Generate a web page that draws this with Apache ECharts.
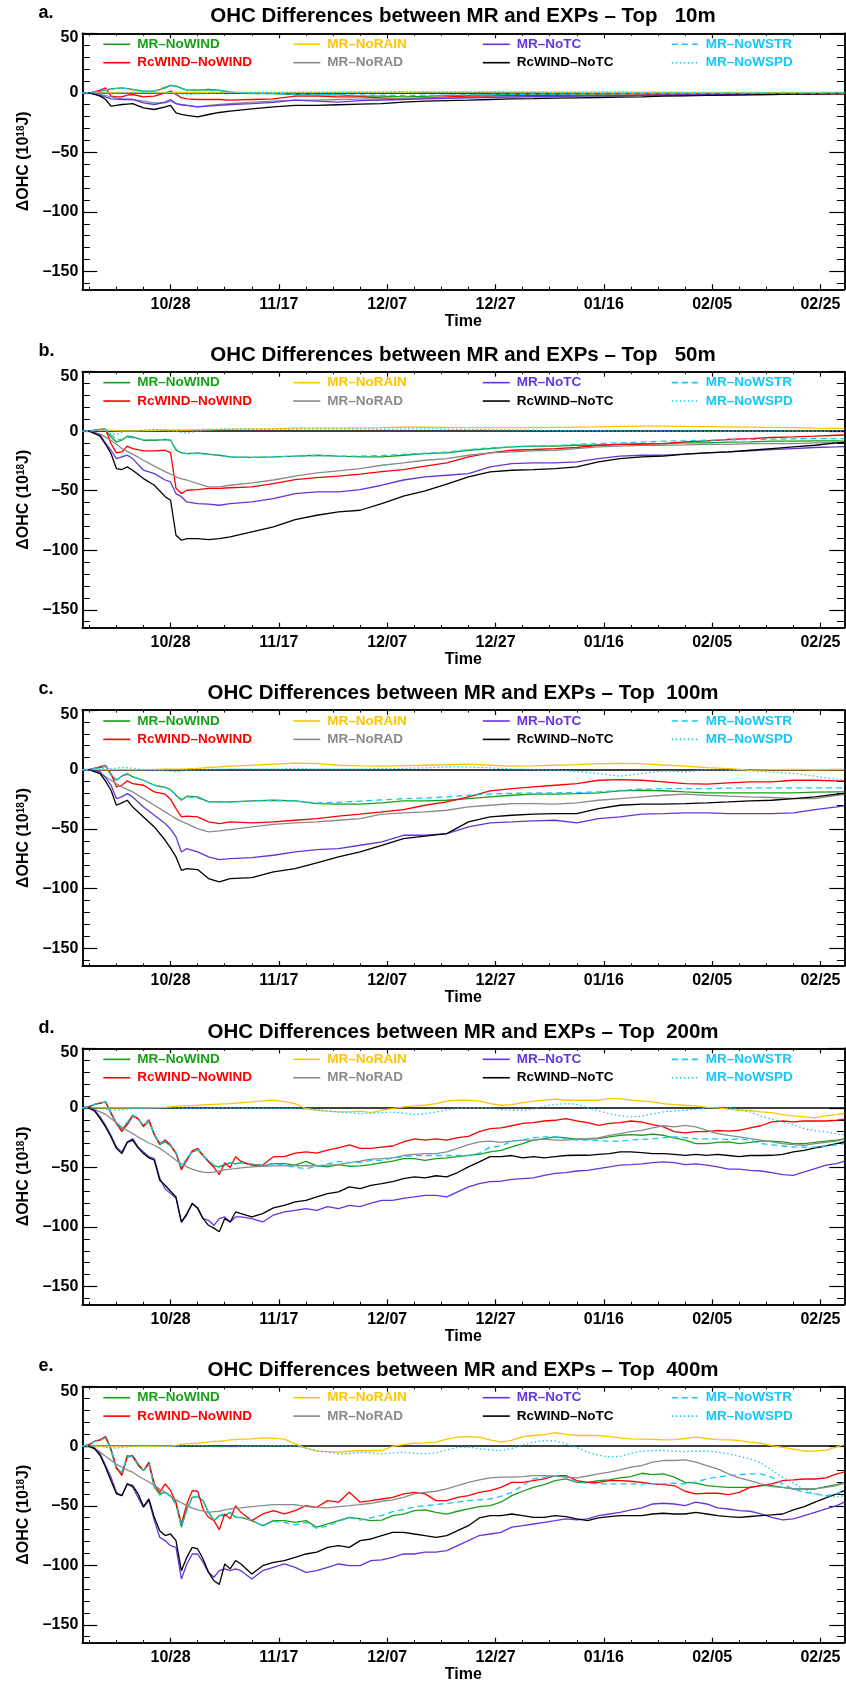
<!DOCTYPE html>
<html><head><meta charset="utf-8">
<script src="https://cdn.jsdelivr.net/npm/echarts@6/dist/echarts.min.js"></script>
<style>html,body{margin:0;padding:0;background:#fff}#c{width:846px;height:1685px}</style>
</head><body><div id="c"></div>
<script>
// ---------- labels ----------
const seriesNames = ['MR–NoWIND','RcWIND–NoWIND','MR–NoRAIN','MR–NoRAD','MR–NoTC','RcWIND–NoTC','MR–NoWSTR','MR–NoWSPD'];
const panelLetters = ['a.','b.','c.','d.','e.'];
const depthLabels = ['  10','  50',' 100',' 200',' 400'];
const xTickDays = [27,47,67,87,107,127,147];           // days since 10/01
const xTickLabels = ['10/28','11/17','12/07','12/27','01/16','02/05','02/25'];
const yTickValues = [-150,-100,-50,0,50];
const yTickLabels = ['–150','–100','–50','0','50'];

// ---------- sample days (days since 10/01) ----------
const daysCoarse = [10.7,12,13,14,15,16,17,18,19,20,22,24,26,27,28,29,30,32,34,36,38,42,46,50,54,58,62,66,70,74,78,82,86,90,94,98,102,106,110,114,118,122,126,130,134,138,142,146,150,151.4];
const daysFine = [10.7,12,13,14,15,16,17,18,19,20,21,22,23,24,25,26,27,28,29,30,31,32,33,34,35,36,37,38,39,40,
 42,44,46,48,50,52,54,56,58,60,62,64,66,68,70,72,74,76,78,80,
 82,84,86,88,90,92,94,96,98,100,102,104,106,108,110,112,114,116,118,120,122,124,126,128,130,132,134,136,138,140,142,144,146,148,150,151.4];

// ---------- panel a : top 10 m ----------
const aNoWIND   = [0,0,0.8,1.4,2.5,3.4,3.8,4.2,3.5,2.8, 1.4,1.4,4.2,6.2,5.6,4,2.2,2.2,2.8,2.2, 0.6,-0.6,-0.6,-1.4,-1.7,-1.7,-2.8,-2.8,-3.4,-3, -2.2,-2,-1.7,-1.4,-1.4,-1.2,-1,-1,-0.8,-0.8, -0.6,-0.6,-0.5,-0.5,-0.4,-0.4,-0.3,-0.3,-0.3,-0.3];
const aRcNoWIND = [0,0,1,2.2,4.2,-2.8,-3.4,-3.4,-2,-1.4, -3.4,-2.8,0,1.4,-1.4,-4,-5,-5.6,-5.6,-5.6, -6.2,-5.6,-5,-2.8,-2.8,-3.4,-3.4,-4.2,-5,-4.2, -3.4,-2.8,-2.8,-2.2,-2.2,-2.2,-2.2,-2,-2,-1.8, -1.4,-1.4,-1.2,-1.2,-1,-1,-0.8,-0.8,-0.6,-0.6];
const aNoRAIN   = [0,0,0,0,0.2,0.2,0.3,0.3,0.3,0.3, 0.3,0.3,0.3,0.3,0.3,0.3,0.3,0.3,0.4,0.4, 0.4,0.4,0.4,0.4,0.4,0.5,0.5,0.5,0.5,0.6, 0.6,0.6,0.6,0.6,0.6,0.5,0.5,0.5,0.5,0.5, 0.5,0.4,0.4,0.4,0.4,0.4,0.4,0.3,0.3,0.3];
const aNoRAD    = [0,0,-0.7,-1.4,-2.4,-3.4,-4.2,-5,-5.3,-5.6, -7,-8.4,-8.4,-7,-9,-10,-10.6,-11.8,-10.6,-9.8, -9,-7.8,-7,-6.2,-6.2,-5.6,-5.2,-5,-4.8,-4.5, -4.2,-4,-3.8,-3.6,-3.4,-3.1,-2.8,-2.6,-2.5,-2.4, -2.2,-2,-1.8,-1.6,-1.4,-1.2,-1,-0.9,-0.8,-0.8];
const aNoTC     = [0,0,-1,-2.2,-3.5,-5,-5.3,-5.6,-5.6,-5.6, -8.4,-9.8,-7.8,-5.6,-9,-10,-10.6,-11.8,-11.2,-10.5, -9.8,-9,-8,-6.2,-7,-7.8,-6.5,-6,-5.6,-5, -4.6,-4.2,-3.8,-3.4,-3.2,-3,-2.8,-2.6,-2.4,-2.2, -2,-1.8,-1.6,-1.4,-1.2,-1,-0.8,-0.6,-0.5,-0.5];
const aRcNoTC   = [0,0,-1.4,-2.8,-5.6,-11.2,-10.5,-9.8,-9.4,-9, -12.6,-14,-11.8,-10.6,-16.8,-18,-19,-20.2,-18.2,-16.5, -15.4,-13.4,-11.8,-10.6,-10.6,-10,-9.5,-9,-7.8,-7, -6.5,-6.2,-5.6,-5,-4.8,-4.5,-4.2,-3.9,-3.6,-3.4, -2.8,-2.5,-2.2,-1.9,-1.7,-1.4,-1.1,-1.1,-0.8,-0.8];
const aNoWSTR   = [0,0,0.8,1.7,2.8,2.8,3.8,4.2,3.4,2.8, 1.1,1.4,5,6.2,5,3.5,2.2,2.8,2.2,1.8, 0.6,-0.3,-0.6,-1.2,-1.4,-1.4,-2,-2,-2.2,-2, -1.8,-1.6,-1.4,-1.2,-1.2,-1,-1,-0.8,-0.8,-0.6, -0.6,-0.5,-0.5,-0.4,-0.4,-0.3,-0.3,-0.2,-0.2,-0.2];
const aNoWSPD   = [0,0,0,0.3,0.3,-0.6,-0.3,0,0.3,0.3, 0.3,0,0,0,-0.6,-1,-1.4,-1,-0.6,-0.3, 0,0.3,0.3,0.6,0.6,0.3,0.3,0.6,0.8,0.8, 0.6,0.6,0.8,0.6,0.6,0.4,0.4,0.3,0.3,0.2, 0.2,0.2,0,0,0,-0.2,-0.2,-0.2,-0.3,-0.3];

// ---------- panel b : top 50 m ----------
const bNoWIND   = [0,0,0.7,1.4,1.4,-4.8,-9,-7.6,-4.2,-4.8, -7.6,-7.6,-7,-7.6,-16,-18.2,-18.8,-18.2,-19.3,-20.2, -21.6,-22,-21.6,-21,-20.2,-21,-21.6,-21.6,-20.2,-18.8, -18.2,-16,-14.6,-13.2,-12.6,-12.6,-11.8,-11.8,-11,-10.4, -10.4,-9.8,-9.8,-9.2,-9,-8.4,-8.4,-8.1,-8.1,-8.4];
const bRcNoWIND = [0,0,0.8,1.5,1.7,-10.4,-18.2,-17.4,-12.6,-14.6, -16.5,-16.5,-16,-18,-48,-52.4,-49.6,-49,-48,-48, -47.5,-46.8,-44,-40.6,-39,-37.8,-36,-34,-32.2,-29.4, -26.6,-21.6,-18.2,-16,-15.4,-14.6,-13.7,-11.8,-11,-11, -10.4,-9,-8.1,-7,-6.2,-5.3,-4.8,-4.2,-3.4,-3.2];
const bNoRAIN   = [0,0,0.5,0.8,1,0.8,0.5,0.3,0.3,0.3, 0.5,0.8,1,1,1,1,1,1.2,1.4,1.6, 1.8,2,2.2,2.5,2.5,2.5,2.8,3,3.3,3.3, 3.2,3,3,3,3,3.2,3.4,3.6,4,4.2, 4.2,4,3.8,3.6,3.4,3.2,3,2.6,2.4,2.4];
const bNoRAD    = [0,0,-1.2,-2.5,-5,-7.6,-11,-14.6,-17,-19.3, -24.4,-29.4,-34,-36,-38.4,-40,-41,-44,-46.8,-46.8, -45.4,-43.4,-41,-37.8,-35,-33.3,-31.4,-28.6,-26.6,-24.4, -23,-20.2,-18.2,-17.4,-16.5,-16,-14.6,-13.2,-12.6,-12, -11.8,-11.5,-11,-11,-10.4,-10.4,-10.4,-9.8,-9.6,-9.6];
const bNoTC     = [0,0,-1.5,-3.4,-10,-16,-23,-21.6,-20.2,-23, -32.8,-35.6,-41,-42.6,-52.4,-55,-59.4,-60.8,-61.3,-62.2, -60.8,-59.4,-56.6,-52.4,-51,-51,-49,-45.4,-41,-38.4, -37,-35.6,-30,-27.2,-26.6,-26.6,-25.8,-23,-21,-20.2, -20.2,-19.3,-18.2,-17.4,-16.5,-15.4,-14.6,-13.7,-13.2,-13];
const bRcNoTC   = [0,0,-2,-4.2,-11,-18.8,-31.4,-32.2,-30,-32.8, -39.8,-45.4,-55,-58,-87.4,-91.6,-90.2,-90.2,-91,-90.2, -88.8,-84.6,-80.4,-74.2,-70.6,-67.8,-66.4,-60.8,-54.6,-50.1, -44.5,-38.4,-34.2,-32.8,-32.2,-31.4,-30,-25.8,-23,-21.6, -21,-19.3,-18.2,-17.4,-16,-14.6,-13.2,-11.8,-9.8,-9.5];
const bNoWSTR   = [0,0,0.7,1.4,1.4,-3,-7,-7,-5,-5.5, -7,-7.3,-7,-7.3,-15,-18,-18.8,-18.8,-19.5,-20.5, -21.6,-22,-21.6,-21,-20.5,-21,-21,-20.5,-19.5,-18.5, -17.5,-15.5,-14,-13,-12.3,-12,-11,-10.4,-9.8,-9.2, -8.4,-8.1,-7.6,-7.3,-7,-6.7,-6.4,-6.2,-6.2,-6.2];
const bNoWSPD   = [0,0,0.5,1,0.5,-2,-3,-1,0,0, 1,1.5,1,0,0,-1,-1.5,0,1,1.5, 1.8,1.6,1.4,1.6,2,2,1.8,1.6,1.8,2, 1.8,1.4,1.2,1,0.8,0.6,0.5,0.4,0.3,0.2, 0.2,0.2,0.1,0,0,0,0,0,0,0];

// ---------- panel c : top 100 m ----------
const cNoWIND   = [0,0,1,1.7,2.8,-4.8,-9,-5.6,-3.4,-6.2, -9,-13.2,-15,-17,-21.6,-25.8,-22.4,-23,-27.2,-27.2, -27.2,-26.3,-25.8,-26.3,-28.6,-29,-29,-28,-26.3,-26.3, -25.8,-24.4,-23,-21.6,-20.7,-20.7,-20.2,-19.6,-18,-17.4, -17.8,-18.8,-19.6,-19.6,-19.6,-19.6,-19.6,-19,-18.8,-18.8];
const cRcNoWIND = [0,0,1.2,2.2,3.6,-3.4,-14.6,-13.2,-9.5,-11.8, -13.2,-18.8,-20.7,-25,-32.8,-39.8,-39.2,-39.8,-44,-45.4, -44,-44.8,-44,-42.6,-41.2,-39.2,-37.5,-35.6,-33.6,-30, -27.2,-23,-18,-16,-14.6,-13.2,-11.8,-9,-8.4,-9, -10.4,-11.8,-12.3,-11.2,-10.4,-10.4,-9,-9,-9.5,-9.5];
const cNoRAIN   = [0,0,0,0,0,0,0,0,0,0, 0,0.2,0.3,0.3,0.3,0.3,0.5,1,1.7,2.2, 2.8,3.6,4.5,5.4,5,3.6,3,2.8,3.2,3.6, 4,4.5,3.6,2.8,3,3.6,4.2,5,5.2,5, 3.8,2.8,1.6,0.8,-0.6,0,0.2,-0.2,0,0];
const cNoRAD    = [0,0,-1.7,-3.4,-6,-9,-12,-14.6,-16.7,-18.8, -24.4,-30,-35.6,-38.4,-41.2,-43.5,-45.4,-49.6,-52.4,-51.5, -50.4,-48.2,-46,-44.8,-44,-42.6,-41.2,-37.5,-36.4,-35.6, -34.2,-31.4,-30,-28.6,-28.6,-29,-28,-25.8,-24.4,-23, -21.6,-20.7,-21.6,-22.4,-23,-23.5,-24.4,-24.4,-21.6,-21];
const cNoTC     = [0,0,-1,-2,-7,-13.2,-24.4,-23,-20.2,-23, -31.4,-38.4,-45.4,-50,-56.6,-69.2,-66.4,-69.2,-73.4,-75.6, -74.8,-74,-72,-69.2,-67.2,-66.4,-63.6,-60.8,-55.2,-55.2, -53.8,-48.2,-44.8,-44,-43.1,-42.6,-44.8,-41.2,-39.8,-37.5, -37,-36.4,-36.4,-37,-37,-37,-36.4,-33.6,-31.4,-30.5];
const cRcNoTC   = [0,0,-1.7,-3.4,-10,-17.4,-30,-28,-25.8,-31.4, -39.8,-48.2,-59.4,-66,-73.4,-84.6,-83.2,-84,-91.6,-94.4, -91.6,-90.8,-86,-83.2,-78.4,-73.4,-69.2,-63.6,-58,-56, -53.8,-44,-39.8,-38.4,-37.5,-37,-37,-32.8,-30,-29, -29,-28.6,-28,-27.2,-26.3,-25.8,-24.4,-23,-20.7,-20];
const cNoWSTR   = [0,0,1,1.7,2.8,-4,-8.5,-6,-4,-6, -9,-13,-15,-17,-21,-25,-23,-24,-27,-27.5, -27.5,-26.5,-26,-26.5,-28,-27.5,-26.5,-25.5,-24.5,-24, -23,-21.6,-20.5,-20,-19.6,-19.6,-19.2,-18.8,-17.5,-16.5, -16,-16,-16,-15.6,-15.4,-15.4,-15.4,-15.4,-15.4,-15.4];
const cNoWSPD   = [0,0,0,0.5,1,0.5,1.2,1.7,1.5,1, 0,-0.6,-1,-1.4,-2,-1.4,-0.6,0,0,0.3, 0.5,0.5,0.5,0.8,0.5,0.5,0.5,0.8,1,1.4, 2.2,2.2,1.4,0.5,0,-0.5,-1.5,-3.4,-5.6,-3.4, -1.2,-2,0,-0.6,-1.2,-2,-3.4,-5.6,-8.4,-9];

// ---------- panel d : top 200 m ----------
const dNoWIND   = [0, 1,3,4,5,-5,-13,-18,-13,-6,-9,-16,-11,-23,-31,-28.5,-32,-38,-51,-43,-37,-35.5,-40,-45,-49,-49.6,-48,-46,-47,-46, -47.6,-48.7,-46.8,-46.8,-48,-45,-48.7,-49.6,-47.6,-49,-48.7,-47.6,-46,-44.8,-42.6,-42.6,-44,-42.6,-42,-41, -39.8,-39,-37,-35.6,-32.8,-30,-27,-25.8,-24.4,-25.2,-26.3,-26.3,-25.8,-24.4,-23,-22.4,-23,-22,-23,-25.2,-27,-30,-30,-29,-28.6,-30,-29,-28,-28,-28.6,-30,-30,-29,-28,-27, -26];
const dRcNoWIND = [0, 1,3,4,5,-4,-13,-20,-14,-7,-9,-15,-10,-22,-30,-27,-31,-38,-52,-44,-36,-34,-40,-45,-50,-56,-46,-50,-41,-45, -48,-48,-41,-41,-38,-37,-38,-35.5,-33.6,-31,-34,-34,-33,-32,-28.6,-26,-27,-26,-27,-25, -24,-20,-17.4,-16.8,-15,-13,-12.3,-11,-10.4,-9,-11,-12.3,-14.6,-13,-12.3,-11,-12,-14,-16,-20,-21,-20,-20,-19,-19.6,-18.8,-16.8,-15,-11.8,-11,-11.8,-11,-11,-11,-10.4, -9.5];
const dNoRAIN   = [0, 0,0,0,0,0,0,0,0,0,0,0,0,0.2,0.3,0.5,0.9,1.3,1.7,1.9,2,2.2,2.5,2.8,3,3.2,3.4,3.6,4,4.3, 5,5.9,6.4,5.2,3.6,-0.5,-2,-2.8,-3.4,-3.4,-2.8,-3.9,-2,-0.6,0.8,1.7,2.2,3.6,5.6,6.4, 6.4,5.6,3.6,2.2,2.8,4.5,5.6,6.4,7.3,6.4,6.4,6.4,6.4,7.8,7.8,6.4,5.9,5,3.6,2.8,2.2,1.7,0.5,0,-1.1,-2,-2.2,-3.4,-3.9,-5.6,-6.7,-7.6,-8.4,-6.7,-5.6, -4.5];
const dNoRAD    = [0, -0.5,-1.5,-3.4,-5.5,-9,-12.5,-16,-19,-21.6,-24.5,-27,-29.5,-31.4,-34,-37,-40.5,-44,-47,-49.6,-51.5,-53,-54,-54.3,-54,-53,-52,-51.5,-51,-50.4, -49.6,-49,-48.7,-48.7,-48.7,-48.4,-48.7,-48,-47.6,-46,-44.8,-43,-42.6,-42,-40,-39,-38.4,-38.4,-37,-34, -30.8,-28.6,-28,-29,-28,-27,-27,-26.3,-27,-27,-26.3,-25.8,-25.2,-23,-21.6,-20,-18.8,-16.8,-15,-16,-14.6,-16,-18.8,-21.6,-23,-24.4,-25.8,-27,-28.6,-30,-30.8,-31.4,-30,-29,-28, -26.3];
const dNoTC     = [0, 0,-2,-7.6,-14.6,-23,-32.8,-37,-28.6,-25.8,-32.8,-37,-41,-42.6,-59,-68,-72,-76,-96,-90,-80,-84.6,-93,-94.4,-98.6,-93,-91.6,-95.8,-91.6,-91.6, -93,-95.8,-90,-87.4,-86,-84.6,-86,-83,-84.6,-81.8,-83,-80,-77.6,-77.6,-76,-74.8,-73.4,-73.4,-74.8,-70.6, -66.4,-63.6,-62,-61.6,-60,-59.4,-58.8,-56.6,-55,-54.3,-53,-52.4,-51,-49.6,-48,-47.6,-47,-46,-45.4,-46,-47.6,-47,-48,-49.6,-51.5,-51.5,-52.4,-53,-54.3,-56,-56.6,-53.8,-51,-48,-46.8, -44.8];
const dRcNoTC   = [0, 0,-2.8,-9,-16,-24.4,-34,-38.4,-29,-27,-33.6,-38.4,-42,-44,-60.8,-65,-70,-74.8,-96,-88.8,-80.4,-84,-93,-98.6,-101,-104,-93,-95.8,-87.4,-88.8, -91.6,-88.8,-84,-81.8,-79,-77.6,-74.8,-72,-70.6,-66.4,-67.8,-65,-63.6,-62,-59.4,-58,-58.8,-57,-58,-54.3, -49.6,-45.4,-41,-41,-40,-42,-41,-42,-41,-40,-39.8,-39.8,-39,-38.4,-37,-37,-37.5,-38.4,-38.4,-39,-39.8,-39,-39.8,-39,-40,-41,-40,-40,-39.8,-39,-37,-35.6,-33.6,-32,-30, -28.6];
const dNoWSTR   = [0, 1,3,4,5,-4,-12,-17,-12,-6,-9,-15,-11,-22,-30,-28,-32,-37,-50,-42,-37,-35,-40,-44,-48,-49,-47,-46,-47,-46, -47,-48,-47,-48,-50,-51,-49,-47,-45,-46,-46,-44,-44,-42,-41,-40,-40,-40,-40,-40, -40,-38,-33,-32,-28,-27,-25,-24.4,-24.4,-26,-27,-27,-27.5,-28,-28,-27,-26.5,-26,-25,-24.4,-25,-26,-26,-26,-26.5,-26,-27,-30,-31,-32,-33,-33,-33,-32,-31, -30];
const dNoWSPD   = [0, 0,0,-0.5,-1,-2,-2,-1.5,-1,-0.5,-0.5,-0.5,-0.5,0,0,0,0,0,0,-0.3,-0.5,-0.5,-0.5,-0.5,-0.3,0,0,-0.3,-0.5,-0.5, -0.5,-0.5,-0.6,-0.6,-0.6,-1,-1.5,-2.5,-3.5,-4,-4.8,-4.5,-4,-3.4,-4.5,-5.6,-5,-3.5,-1.5,-0.5, 0,0,0,-1.5,-2,-2,-1,1.5,2.8,3.6,3,0,-2.5,-4.8,-6.5,-7.6,-7,-5,-3.4,-2.5,-2,-1,0,0.5,0.5,-1.5,-3.4,-7,-9.5,-11.8,-14,-17.4,-19,-20,-22, -22.4];

// ---------- panel e : top 400 m ----------
const eNoWIND   = [0, 1.4,4.2,5.3,7.6,-3.6,-19,-23,-7.8,-8.7,-16.2,-20.4,-14.8,-34.5,-40,-38.7,-41.5,-48.5,-68,-52.7,-42.9,-42.3,-45.7,-55.5,-62.5,-58.3,-58.3,-55.5,-59.7,-59.7, -62.5,-66.7,-62.5,-62.5,-63.9,-62.5,-68,-65.3,-62.5,-59.7,-61,-62.5,-62,-58.3,-57,-54,-53.5,-55.5,-57,-54.6, -52.7,-50.7,-49.9,-47,-41.5,-37.8,-34.5,-32.2,-28.9,-27.5,-30.3,-30.3,-28.9,-28.3,-26.6,-25.5,-22.7,-23.8,-23.2,-26,-30.3,-31,-33,-33.9,-34.5,-34.5,-34.5,-33,-33,-34.5,-35.9,-35.9,-35.9,-33.9,-32.2, -30.3];
const eRcNoWIND = [0, 1.4,4.2,5.3,8.1,-2.2,-17.6,-24.6,-9.2,-7.8,-14.8,-20.4,-13.4,-31.6,-38.7,-31.6,-37.3,-47,-65.3,-48.5,-37.3,-37.8,-52.7,-59.7,-62.5,-70,-56.9,-61,-49.9,-55.5, -62.5,-56.9,-54,-56.9,-54,-49.9,-51.3,-45.7,-47,-38.7,-47,-45.7,-44.3,-42.9,-40,-38.7,-40,-45.7,-45.7,-42.9, -41.5,-38.7,-37.3,-34.5,-30.3,-30.3,-28.9,-27.5,-24.6,-24.6,-28.9,-30.3,-30.3,-28.9,-28.9,-29.4,-30.3,-31.6,-32.2,-33,-37.8,-40,-39.5,-39.5,-40.6,-38.7,-34.5,-33,-31.6,-28.9,-28.3,-27.5,-27.5,-26.6,-23.2, -21.8];
const eNoRAIN   = [0, 0,0,0,0,0,0,0,0,0,0,0,0,0,0,0,0,0.8,1.5,2,2.3,2.5,3,3.5,4,4.2,4.7,5.3,5.6,5.9, 6.2,7,6.8,6,2,-1.5,-4.2,-4.6,-5,-4.2,-3.6,-3.8,-3.6,0,1.4,2.5,2.8,3.4,6,7.6, 8.1,7.6,5.3,3.4,5,8,9,9.8,11.5,10,9,9,9,8,7,6.2,6,5.8,5.3,5.6,6.5,7.6,6.5,5.5,5.3,4.8,3.4,2.5,0.6,-1,-2.5,-4.2,-4,-3.2,-0.5, 1.4];
const eNoRAD    = [0, -0.8,-2,-5,-8.5,-12,-15,-17.6,-20,-21.8,-25,-27.5,-30,-33,-36,-38.7,-42,-45,-47.5,-49.9,-52,-53.5,-54.5,-55.5,-55,-54.6,-53.5,-52.7,-52,-51.8, -50.7,-49.9,-49,-49,-49,-50.7,-51.3,-51.8,-50.7,-49.9,-49,-47.9,-46.2,-45,-42.9,-40,-38.7,-37.8,-35.9,-33, -30.3,-28.3,-26.6,-26,-26,-25.5,-24.6,-24.6,-25,-26,-26.6,-25,-23.2,-21.8,-19.9,-17.6,-16.2,-13.4,-12,-12,-11.5,-13.4,-16.2,-19,-23.2,-26.6,-28.9,-31.6,-33.9,-34.5,-35.9,-35.9,-35.9,-34.5,-33, -31];
const eNoTC     = [0, 0,-1.4,-6.4,-16.2,-26,-38.7,-41.5,-31.6,-34.5,-42.9,-51.3,-45.7,-62.5,-76.5,-79.3,-83.5,-84.9,-111.5,-98.9,-90.5,-90.5,-97.5,-105.9,-110,-104.5,-103,-104.5,-103,-104.5, -111.5,-104.5,-101.7,-98.9,-101.7,-105.9,-104.5,-101.7,-98.9,-100.3,-100.3,-96,-95.5,-93.3,-90.5,-90.5,-89,-89,-87.7,-83.5, -79.3,-75,-73.7,-72.3,-68,-66.7,-65.3,-63.9,-62.5,-61,-61.9,-61,-58.3,-56.9,-55.5,-53.5,-51.8,-48.5,-47.9,-48.5,-49.9,-47,-48.5,-51.8,-52.7,-54,-54.6,-56.9,-59.7,-61.9,-61,-58.3,-55.5,-52.7,-49.9, -47];
const eRcNoTC   = [0, 0,-2.2,-7.8,-17.6,-28.9,-40,-41.5,-31.6,-33,-40,-50.7,-44.3,-59.7,-70.9,-75,-73.7,-79.3,-104.5,-93.3,-84.9,-86.3,-94.7,-105.9,-112.9,-116,-98.9,-103,-96,-98.9, -107.3,-100.3,-97.5,-96,-93.3,-90.5,-89,-84.9,-83.5,-84.9,-79.3,-77.9,-75,-72.3,-72.3,-73.7,-75,-76.5,-75,-70.9, -66.7,-60.2,-58.3,-58.3,-56.9,-58.3,-59.7,-59.7,-58.3,-59.1,-61,-62.5,-60.2,-59.1,-58.3,-58.3,-58.3,-56.9,-56.3,-56.9,-56.9,-55.5,-56.9,-58.3,-59.1,-59.7,-59,-58.3,-57.7,-56.9,-53.5,-50.7,-47,-43.4,-40, -37.3];
const eNoWSTR   = [0, 1.4,4,5,7,-3,-18,-22,-9,-9,-16,-20,-15,-34,-41,-39,-42,-49,-67,-54,-43,-42,-46,-56,-62,-58,-57,-56,-60,-60, -62,-67,-63,-64,-66,-64,-69,-67,-63,-60,-62,-60,-58,-55,-53,-51,-50,-49,-48,-47, -45.7,-45,-44.3,-42,-38.7,-33,-27.5,-26,-24.6,-26,-30.3,-31,-31.6,-31.6,-31.6,-31.6,-31.6,-31.6,-31.6,-31,-31.6,-30,-27.5,-26,-24.6,-24,-23.2,-23.2,-26,-31.6,-36,-38.7,-40,-41.5,-40, -37];
const eNoWSPD   = [0, 0,0.5,0.5,-1,-1.5,-1.4,-1,-0.5,0,0.3,0.5,0.5,0.3,0,0,0,0,0.3,0.5,0.8,0.8,0.5,0,-0.5,-0.6,-0.6,-0.6,-0.5,0, 0,0.3,0.5,0.5,0,-1.5,-3.6,-4.8,-6.4,-6,-5,-5.6,-6.4,-5.6,-5,-6,-6.4,-5.6,-3,-1, -0.8,-2.2,-3,-3.6,-2,1,3.4,4.8,4.5,2,-1,-5,-7.5,-9,-8.5,-6,-4.2,-3.6,-3.6,-4.2,-4.5,-4.2,-4.2,-5,-6.4,-8.4,-10.6,-14,-20,-26,-31,-36,-40,-42.5,-42.5, -41.5];

// ---------- build ----------
const panels = [
  {days: daysCoarse, vals: [aNoWIND,aRcNoWIND,aNoRAIN,aNoRAD,aNoTC,aRcNoTC,aNoWSTR,aNoWSPD]},
  {days: daysCoarse, vals: [bNoWIND,bRcNoWIND,bNoRAIN,bNoRAD,bNoTC,bRcNoTC,bNoWSTR,bNoWSPD]},
  {days: daysCoarse, vals: [cNoWIND,cRcNoWIND,cNoRAIN,cNoRAD,cNoTC,cRcNoTC,cNoWSTR,cNoWSPD]},
  {days: daysFine,   vals: [dNoWIND,dRcNoWIND,dNoRAIN,dNoRAD,dNoTC,dRcNoTC,dNoWSTR,dNoWSPD]},
  {days: daysFine,   vals: [eNoWIND,eRcNoWIND,eNoRAIN,eNoRAD,eNoTC,eRcNoTC,eNoWSTR,eNoWSPD]}
];
const colors = ['#16a016','#ff0000','#ffc400','#8a8a8a','#6236dc','#000000','#18c6f5','#18c6f5'];
const dashes = ['solid','solid','solid','solid','solid','solid',[6,4],[1.5,2.5]];
const FONT = "'Liberation Sans', Arial, Helvetica, sans-serif";
const GL = 82.3, GW = 762, GH = 256, XMIN = 10.7, XMAX = 151.4, YMIN = -165, YMAX = 50;
const tops = [0,1,2,3,4].map(i => 33.3 + i * 338.35);
const legendLefts = [102.5, 292.5, 482, 671];

const xMinor = []; for (let d = 12; d < XMAX; d += 5) xMinor.push(d);
const yMinor = []; for (let v = -160; v <= 50; v += 10) yMinor.push(v);

const option = {animation:false, backgroundColor:'#ffffff', title:[], grid:[], xAxis:[], yAxis:[], legend:[], series:[]};
const black = '#000';
const lineAx = {show:true, onZero:false, lineStyle:{color:black, width:1.5}};
const labelFont = {fontSize:16, fontWeight:'bold', color:black, fontFamily:FONT};

panels.forEach((p, g) => {
  const top = tops[g];
  option.grid.push({left:GL, top:top, width:GW, height:GH});
  option.title.push({text:'OHC Differences between MR and EXPs – Top ' + depthLabels[g] + 'm',
    left:463, top:top - 27, textAlign:'center', padding:0,
    textStyle:{fontSize:20.5, fontWeight:'bold', color:black, fontFamily:FONT}});
  option.title.push({text:panelLetters[g], left:38.5, top:top - 29.5, padding:0,
    textStyle:{fontSize:18, fontWeight:'bold', color:black, fontFamily:FONT}});

  const xb = {type:'value', min:XMIN, max:XMAX, gridIndex:g, splitLine:{show:false}, axisLine:lineAx};
  option.xAxis.push(Object.assign({}, xb, {position:'bottom',
    axisTick:{show:true, inside:true, length:5, customValues:xTickDays, lineStyle:{color:black, width:1.2}},
    axisLabel:Object.assign({show:true, customValues:xTickDays, margin:7,
      formatter:v => { const i = xTickDays.indexOf(v); return i >= 0 ? xTickLabels[i] : ''; }}, labelFont),
    name:'Time', nameLocation:'middle', nameGap:23, nameTextStyle:labelFont}));
  option.xAxis.push(Object.assign({}, xb, {position:'bottom',
    axisTick:{show:true, inside:true, length:2.6, customValues:xMinor, lineStyle:{color:black, width:1}}, axisLabel:{show:false}}));
  option.xAxis.push(Object.assign({}, xb, {position:'top',
    axisTick:{show:true, inside:true, length:5, customValues:xTickDays, lineStyle:{color:black, width:1.2}}, axisLabel:{show:false}}));
  option.xAxis.push(Object.assign({}, xb, {position:'top',
    axisTick:{show:true, inside:true, length:2.6, customValues:xMinor, lineStyle:{color:black, width:1}}, axisLabel:{show:false}}));

  const yb = {type:'value', min:YMIN, max:YMAX, gridIndex:g, splitLine:{show:false}, axisLine:lineAx};
  option.yAxis.push(Object.assign({}, yb, {position:'left',
    axisTick:{show:true, inside:true, length:15, customValues:yTickValues, lineStyle:{color:black, width:1.2}},
    axisLabel:Object.assign({show:true, customValues:yTickValues, margin:4, showMaxLabel:true, showMinLabel:true,
      formatter:v => { const i = yTickValues.indexOf(v); if (i < 0) return ''; return v === 50 ? '{t|' + yTickLabels[i] + '}' : yTickLabels[i]; },
      rich:{t:{fontSize:16, fontWeight:'bold', color:black, fontFamily:FONT, padding:[9,0,0,0]}}}, labelFont),
    name:'{a|ΔOHC (10}{s|18}{a|J)}', nameLocation:'middle', nameGap:44,
    nameTextStyle:{rich:{a:{fontSize:16, fontWeight:'bold', color:black, fontFamily:FONT},
                         s:{fontSize:10, fontWeight:'bold', color:black, fontFamily:FONT, verticalAlign:'top', lineHeight:10}}}}));
  option.yAxis.push(Object.assign({}, yb, {position:'left',
    axisTick:{show:true, inside:true, length:7.5, customValues:yMinor, lineStyle:{color:black, width:1}}, axisLabel:{show:false}}));
  option.yAxis.push(Object.assign({}, yb, {position:'right',
    axisTick:{show:true, inside:true, length:15, customValues:yTickValues, lineStyle:{color:black, width:1.2}}, axisLabel:{show:false}}));
  option.yAxis.push(Object.assign({}, yb, {position:'right',
    axisTick:{show:true, inside:true, length:7.5, customValues:yMinor, lineStyle:{color:black, width:1}}, axisLabel:{show:false}}));

  p.vals.forEach((arr, k) => {
    const s = {type:'line', name:seriesNames[k], xAxisIndex:4*g, yAxisIndex:4*g,
      data:p.days.map((d, i) => [d, arr[i]]), showSymbol:false, symbol:'none', silent:true,
      lineStyle:{color:colors[k], width:1.3, type:dashes[k]}, itemStyle:{color:colors[k]}, z:3};
    if (k === 0) s.markLine = {silent:true, symbol:'none', label:{show:false}, animation:false,
      lineStyle:{color:black, width:1.5, type:'solid'}, data:[{yAxis:0}], z:2};
    option.series.push(s);
  });

  for (let c = 0; c < 4; c++) {
    option.legend.push({orient:'vertical', left:legendLefts[c], top:top + 4, padding:0,
      itemWidth:27, itemHeight:14, itemGap:4.4, selectedMode:false,
      itemStyle:{opacity:0, borderWidth:0},
      lineStyle:{width:1.6},
      data:[0,1].map(r => ({name:seriesNames[2*c + r], textStyle:{color:colors[2*c + r]}})),
      textStyle:{fontSize:13.5, fontWeight:'bold', fontFamily:FONT, padding:[0,0,0,2]}});
  }
});

const chart = echarts.init(document.getElementById('c'), null, {renderer:'canvas', width:846, height:1685});
chart.setOption(option);
</script>
</body></html>
